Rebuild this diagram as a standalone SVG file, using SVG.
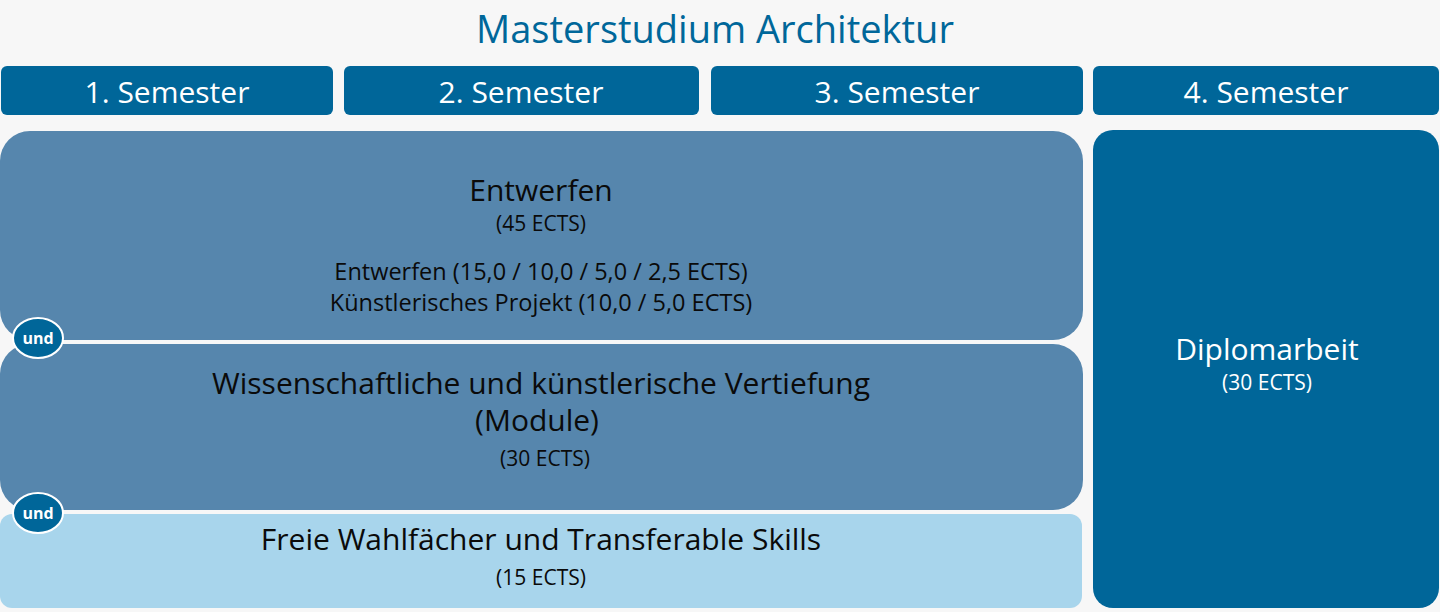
<svg xmlns="http://www.w3.org/2000/svg" width="1440" height="612" viewBox="0 0 1440 612">
<style>
text{font-family:"Open Sans","Noto Sans","DejaVu Sans",sans-serif;text-anchor:middle}
.sem{fill:#006699}
.st{fill:#fff;font-size:30px}
.mid{fill:#5686ad}
.lt{fill:#a8d5ec}
.big{fill:#0a0a0a;font-size:30px}
.sm{fill:#0a0a0a;font-size:21px}
.md{fill:#0a0a0a;font-size:23.5px}
.und{fill:#006699;stroke:#fff;stroke-width:2}
.ut{fill:#fff;font-size:16px;font-weight:bold}
</style>
<rect width="1440" height="612" fill="#f7f7f7"/>
<text x="715" y="43" style="fill:#00679a;font-size:38px">Masterstudium Architektur</text>
<g id="sem1"><rect class="sem" x="1" y="66" width="332" height="49" rx="6"/><text class="st" x="167" y="103">1. Semester</text></g>
<g id="sem2"><rect class="sem" x="344" y="66" width="355" height="49" rx="6"/><text class="st" x="521" y="103">2. Semester</text></g>
<g id="sem3"><rect class="sem" x="711" y="66" width="372" height="49" rx="6"/><text class="st" x="897" y="103">3. Semester</text></g>
<g id="sem4"><rect class="sem" x="1093" y="66" width="346" height="49" rx="6"/><text class="st" x="1266" y="103">4. Semester</text></g>
<g id="entwerfen"><rect class="mid" x="0" y="131" width="1083" height="209" rx="30"/>
<text x="541" y="201" style="fill:#0a0a0a;font-size:30px">Entwerfen</text>
<text class="sm" x="541" y="231">(45 ECTS)</text>
<text class="md" x="541" y="280">Entwerfen (15,0 / 10,0 / 5,0 / 2,5 ECTS)</text>
<text class="md" x="541" y="311">Künstlerisches Projekt (10,0 / 5,0 ECTS)</text></g>
<g id="vertiefung"><rect class="mid" x="0" y="344" width="1083" height="166" rx="30"/>
<text class="big" x="541" y="394">Wissenschaftliche und künstlerische Vertiefung</text>
<text class="big" x="537" y="431">(Module)</text>
<text class="sm" x="545" y="466">(30 ECTS)</text></g>
<g id="freie"><rect class="lt" x="0" y="514" width="1082" height="94" rx="12"/>
<text class="big" x="541" y="550">Freie Wahlfächer und Transferable Skills</text>
<text class="sm" x="541" y="585">(15 ECTS)</text></g>
<g id="diplom"><rect class="sem" x="1093" y="130" width="346" height="478" rx="20"/>
<text x="1267" y="360" style="fill:#fff;font-size:30px">Diplomarbeit</text>
<text x="1267" y="390" style="fill:#fff;font-size:21px">(30 ECTS)</text></g>
<g id="connectors">
<g id="und1"><ellipse class="und" cx="38" cy="338" rx="25" ry="20"/><text class="ut" x="38" y="344">und</text></g>
<g id="und2"><ellipse class="und" cx="38" cy="513" rx="25" ry="20"/><text class="ut" x="38" y="519">und</text></g>
</g>
</svg>
